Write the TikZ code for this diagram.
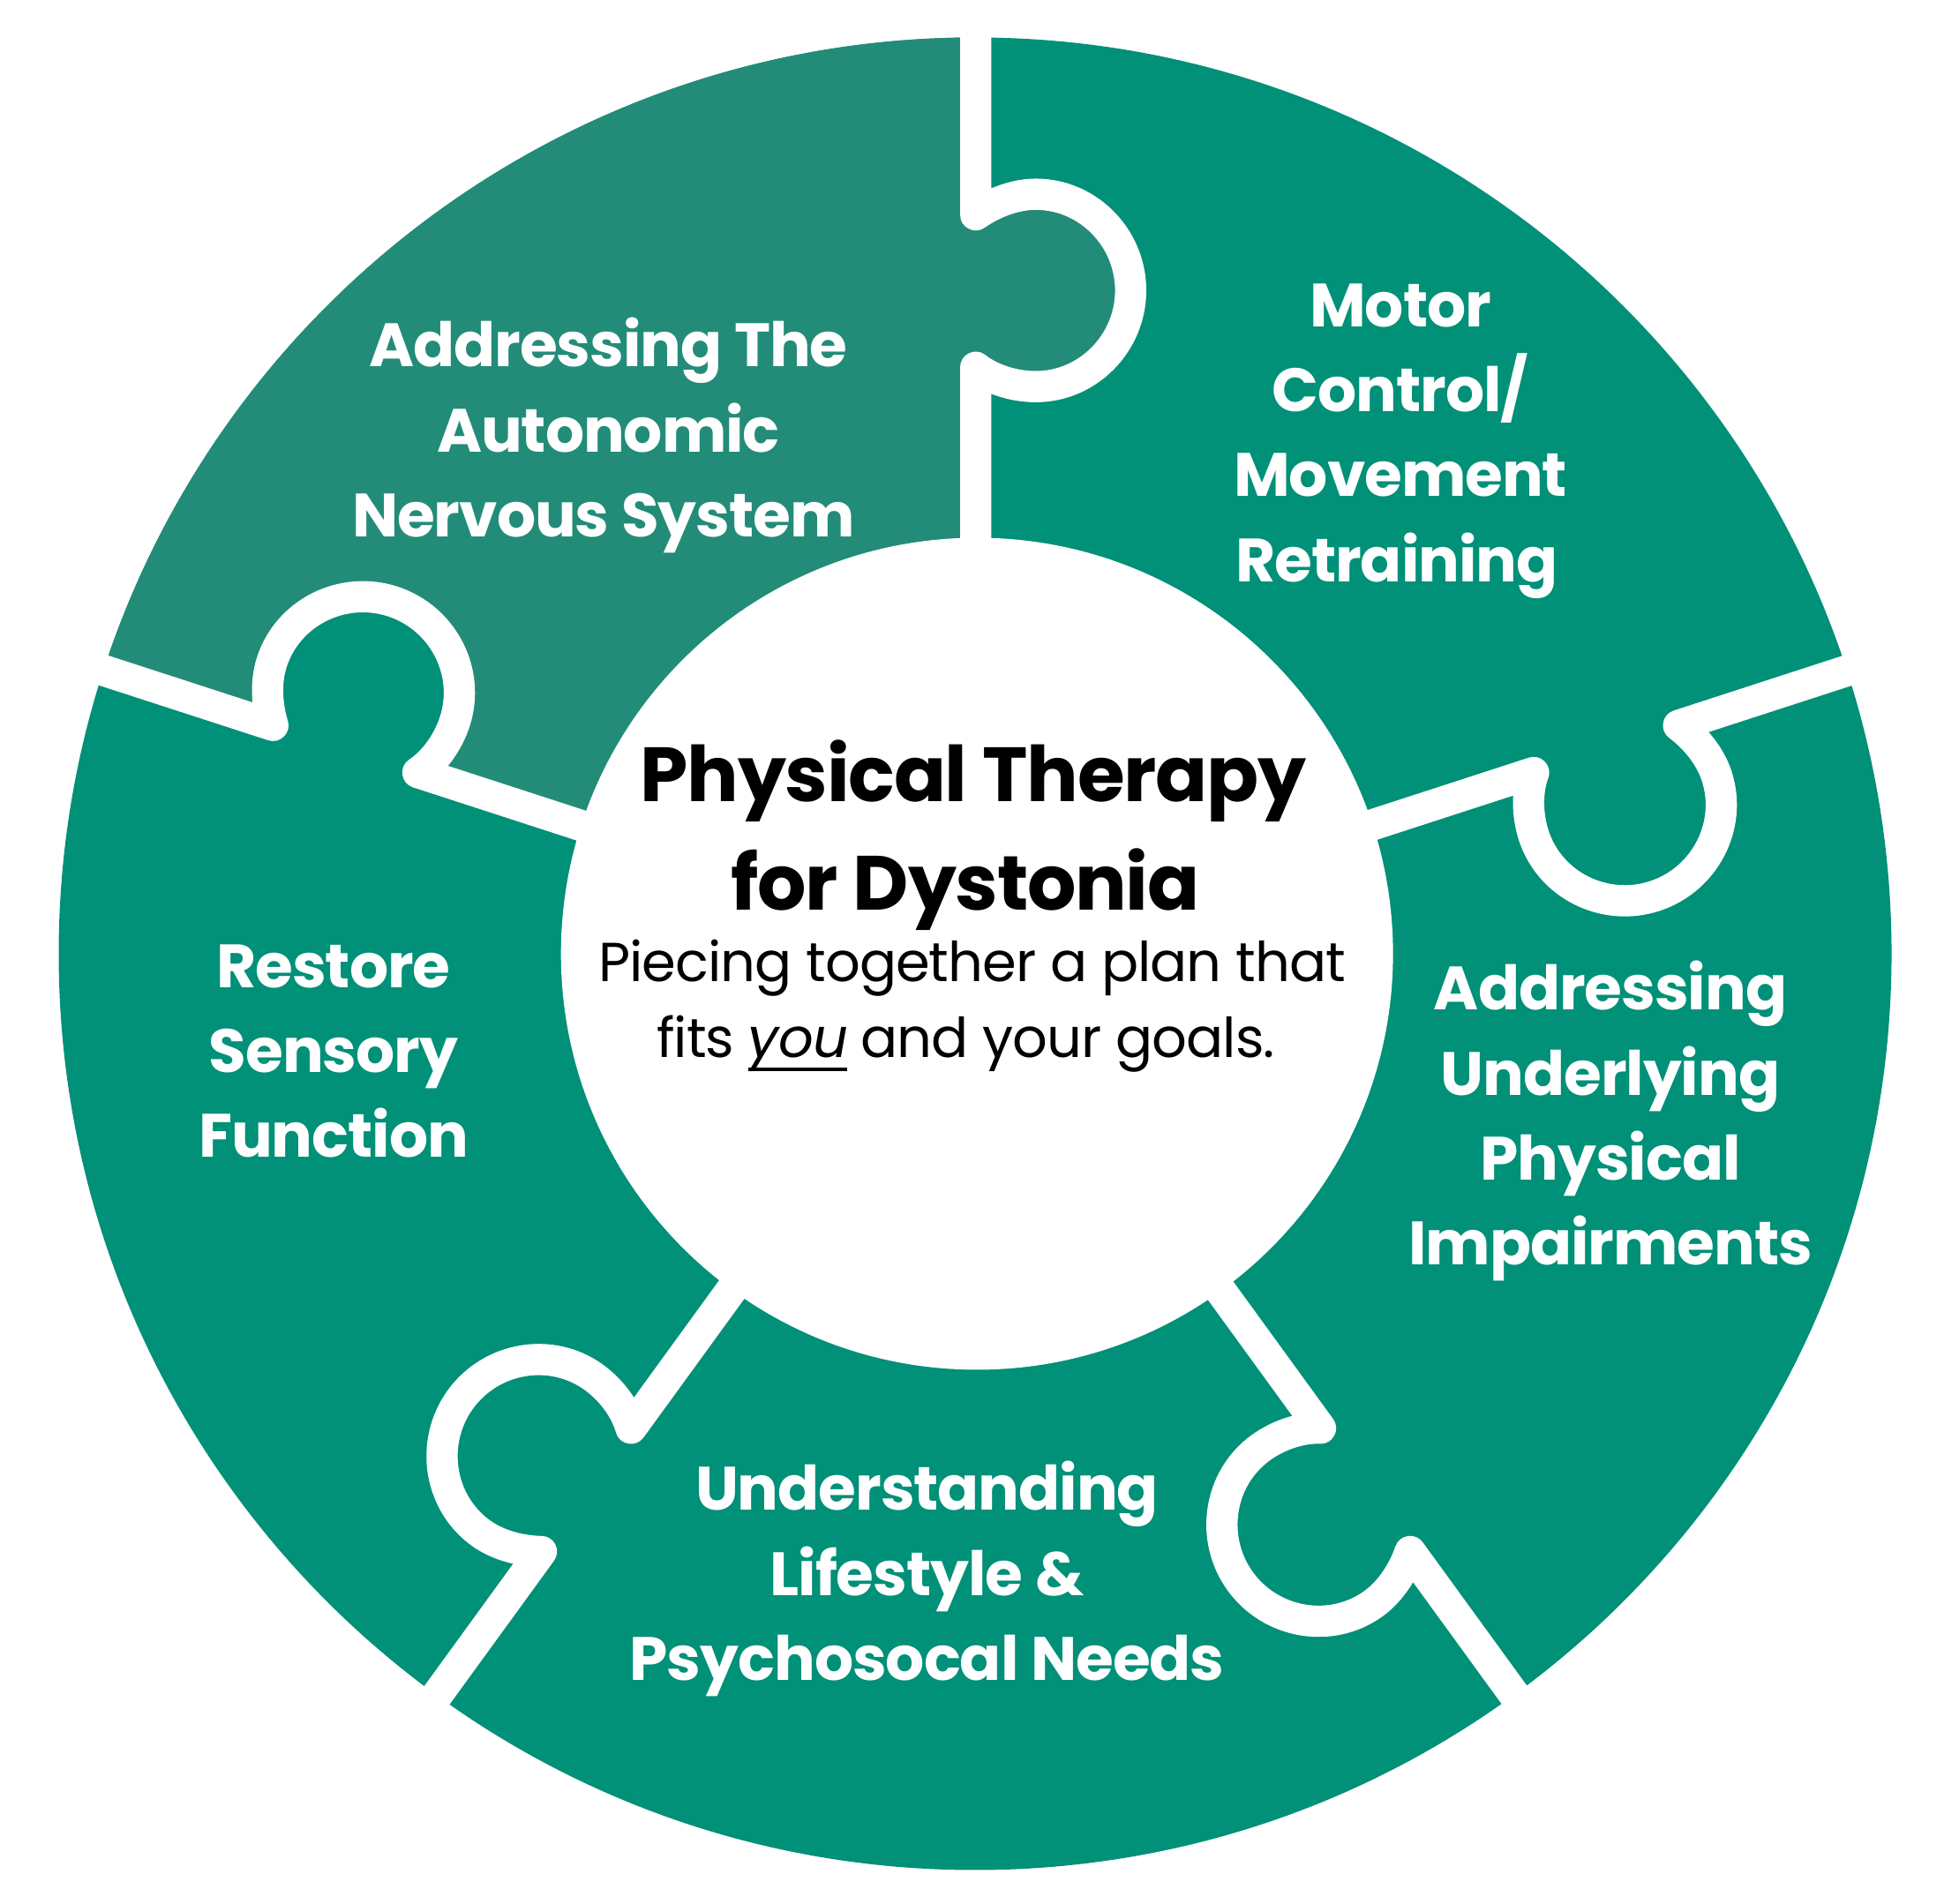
\documentclass[tikz,border=0pt]{standalone}
\usepackage{fontspec}
\setmainfont{Poppins}[BoldFont={Poppins Bold},ItalicFont={Poppins Italic},BoldItalicFont={Poppins Bold Italic}]
\definecolor{teal1}{RGB}{1,144,120}
\definecolor{teal2}{RGB}{35,140,120}
\newcommand{\tabcurve}{(0,591.5) .. controls (12,600) and (30,608) .. (48,608) .. controls (90,608) and (124,573) .. (124,531) .. controls (124,489) and (90,454) .. (48,454) .. controls (30,454) and (12,460) .. (0,469.5)}
\newcommand{\thickul}[1]{\setbox0\hbox{#1}\rlap{\rule[-11pt]{\wd0}{3.2pt}}\box0 }
\tikzset{
  x=1pt,y=1pt,
  seam/.style={draw=white,line width=25pt,line join=round,line cap=butt},
  petal/.style={text=white,font=\fontsize{49}{68}\selectfont\bfseries\addfontfeatures{LetterSpace=-1.5},align=center,inner sep=0pt},
}
\begin{document}
\begin{tikzpicture}
\useasboundingbox[fill=white] (-781,763.5) rectangle (787,-760);
\fill[teal1] (-0.5,0) circle[radius=733.5];
% lighter piece
\fill[teal2] (0,0) -- (-0.5,733.5) arc[start angle=90,end angle=162,radius=733.5] -- cycle;
\fill[teal2] \tabcurve -- (-6,469.5) -- (-6,591.5) -- cycle;
\begin{scope}[rotate=72]
\fill[teal1] \tabcurve -- (-6,469.5) -- (-6,591.5) -- cycle;
\end{scope}
% seams
\foreach \k in {0,1,2,3,4}{
  \begin{scope}[rotate=-72*\k]
  \draw[seam] (0,750) -- \tabcurve -- (0,320);
  \end{scope}
}
\fill[white] (1,0) circle[radius=333];
\node[petal] (autonomic) at (-294,415) {Addressing The\\Autonomic\\Nervous System\hspace*{8pt}};
\node[petal] (motor) at (340,410.5) {Motor\\Control/\\Movement\\Retraining\hspace*{6pt}};
\node[petal] (impair) at (508,-134) {Addressing\\Underlying\\Physical\\Impairments};
\node[petal] (life) at (-39,-500.5) {Understanding\\Lifestyle \&\\Psychosocal Needs};
\node[petal] (sensory) at (-514,-78) {Restore\\Sensory\\Function};
\node[text=black,font=\fontsize{61.5}{87}\selectfont\bfseries\addfontfeatures{LetterSpace=-1.5},align=center,inner sep=0pt] (title) at (-2,95) {Physical Therapy\\for Dystonia\hspace*{13pt}};
\node[text=black,font=\fontsize{44}{61}\selectfont\addfontfeatures{LetterSpace=-1.5},align=center,inner sep=0pt] (sub) at (-3,-42) {Piecing together a plan that\\fits \thickul{\textit{you}} and your goals.\hspace*{10pt}};
\end{tikzpicture}
\end{document}
